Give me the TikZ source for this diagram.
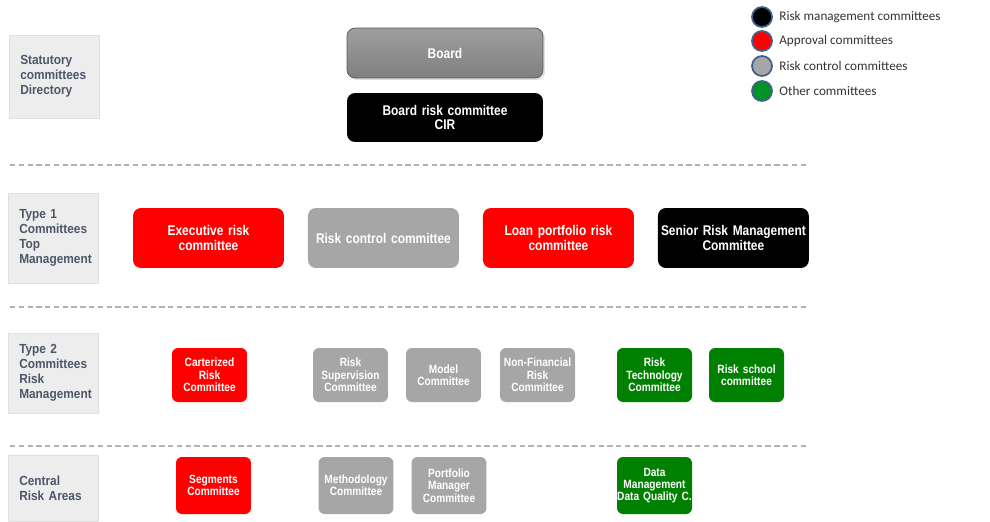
\documentclass[tikz,border=0pt]{standalone}
\usepackage{fontspec}
\setmainfont{Liberation Sans}
\newfontfamily\boxfont{Liberation Sans}[FakeStretch=0.85]
\newfontfamily\tagfont{Liberation Sans}[FakeStretch=0.9]
\newfontfamily\keyfont{Carlito}
\usetikzlibrary{shapes,arrows,positioning,shadows}

\definecolor{approvalred}{HTML}{FF0000}
\definecolor{controlgray}{HTML}{A6A6A6}
\definecolor{othergreen}{HTML}{008000}
\definecolor{taggray}{HTML}{4E5669}
\definecolor{keyrim}{HTML}{41618C}

\tikzstyle{level} = [rectangle, draw=black!12, fill=black!7, minimum width=1.8cm, text width=1.35cm, align=left, text=taggray, font=\tagfont\bfseries\fontsize{7.5}{8.5}\selectfont]
\tikzstyle{bigbox} = [rectangle, rounded corners=0.16cm, minimum width=3cm, minimum height=1.2cm, inner xsep=1pt, text width=2.95cm, align=center, text=white, font=\boxfont\bfseries\fontsize{8}{8.5}\selectfont]
\tikzstyle{smallbox} = [rectangle, rounded corners=0.12cm, minimum width=1.5cm, minimum height=1.08cm, inner xsep=0pt, text width=1.5cm, align=center, text=white, font=\boxfont\bfseries\fontsize{6.8}{7}\selectfont]
\tikzstyle{approval} = [fill=approvalred]
\tikzstyle{control} = [fill=controlgray]
\tikzstyle{riskmgmt} = [fill=black]
\tikzstyle{other} = [fill=othergreen]
\tikzstyle{dot} = [circle, draw=keyrim, line width=1pt, minimum size=0.4cm, inner sep=0pt]
\tikzstyle{keytext} = [anchor=west, inner sep=0pt, text=black!80, font=\keyfont\fontsize{7.5}{8}\selectfont]
\tikzstyle{sep} = [draw=black!30, line width=0.8pt, dash pattern=on 3pt off 2pt]

\begin{document}
\begin{tikzpicture}[x=0.02cm, y=-0.02cm, node distance = 3.5cm]
        \useasboundingbox (0,0) rectangle (990,521);

        % levels on the left
        \node [level, minimum height=1.66cm] (statutory) at (54,76.5) {Statutory\\committees\\Directory};
        \node [level, minimum height=1.8cm] (type1) at (53,238) {Type 1\\Committees\\Top\\Management};
        \node [level, minimum height=1.6cm] (type2) at (53,373) {Type 2\\Committees\\Risk\\Management};
        \node [level, minimum height=1.32cm] (central) at (53,488) {Central\\Risk Areas};

        % statutory
        \node [bigbox, minimum width=3.92cm, minimum height=1cm, draw=black!65, top color=black!38, bottom color=black!50, drop shadow={opacity=0.25, shadow xshift=0.04cm, shadow yshift=-0.04cm}] (board) at (445,53) {Board};
        \node [bigbox, riskmgmt, minimum width=3.92cm, minimum height=0.98cm] (boardrisk) at (445,117.5) {Board risk committee\\CIR};

        % type 1
        \node [bigbox, approval] (exec) at (208.5,238) {Executive risk\\committee};
        \node [bigbox, control, right of=exec] (riskctrl) {Risk control committee};
        \node [bigbox, approval, right of=riskctrl] (loan) {Loan portfolio risk\\committee};
        \node [bigbox, riskmgmt, right of=loan] (senior) {Senior Risk Management\\Committee};

        % type 2
        \node [smallbox, approval] (carterized) at (209.5,375) {Carterized\\Risk\\Committee};
        \node [smallbox, control] (supervision) at (350.5,375) {Risk\\Supervision\\Committee};
        \node [smallbox, control] (model) at (443.5,375) {Model\\Committee};
        \node [smallbox, control] (nonfin) at (537.5,375) {Non-Financial\\Risk\\Committee};
        \node [smallbox, other] (tech) at (654.5,375) {Risk\\Technology\\Committee};
        \node [smallbox, other] (school) at (746.5,375) {Risk school\\committee};

        % central risk areas
        \node [smallbox, approval, minimum height=1.14cm] (segments) at (213.5,485.5) {Segments\\Committee};
        \node [smallbox, control, minimum height=1.14cm] (method) at (356,485.5) {Methodology\\Committee};
        \node [smallbox, control, minimum height=1.14cm] (portfolio) at (449,485.5) {Portfolio\\Manager\\Committee};
        \node [smallbox, other, minimum height=1.14cm] (dataqual) at (654.5,485.5) {Data\\Management\\Data Quality C.};

        % separators
        \draw [sep] (10,165) -- (808,165);
        \draw [sep] (10,307) -- (808,307);
        \draw [sep] (10,446) -- (808,446);

        % legend
        \node [dot, fill=black] (keymgmt) at (762,17) {};
        \node [dot, fill=approvalred] (keyappr) at (762,41) {};
        \node [dot, fill=controlgray] (keyctrl) at (762,66) {};
        \node [dot, fill=othergreen!85!cyan] (keyother) at (762,91) {};
        \node [keytext] at (779,17) {Risk management committees};
        \node [keytext] at (779,41) {Approval committees};
        \node [keytext] at (779,66) {Risk control committees};
        \node [keytext] at (779,91) {Other committees};
      \end{tikzpicture}
\end{document}
